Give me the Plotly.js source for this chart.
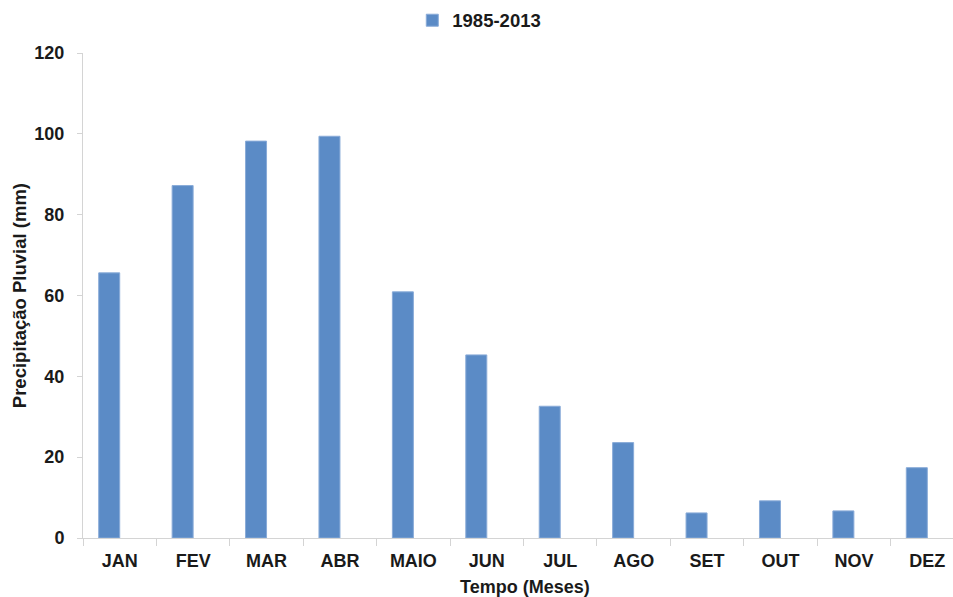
<!DOCTYPE html>
<html>
<head>
<meta charset="utf-8">
<script src="https://cdn.plot.ly/plotly-3.0.1.min.js"></script>
<style>
  html, body { margin: 0; padding: 0; background: #fff; }
  #chart { width: 953px; height: 597px; }
</style>
</head>
<body>
<div id="chart"></div>
<script>
// Monthly mean rainfall, 1985-2013
const months = ['JAN', 'FEV', 'MAR', 'ABR', 'MAIO', 'JUN', 'JUL', 'AGO', 'SET', 'OUT', 'NOV', 'DEZ'];
const rainfall = [65.6, 87.2, 98.2, 99.4, 60.9, 45.3, 32.6, 23.6, 6.2, 9.2, 6.7, 17.4];
const seriesName = '1985-2013';
const yTicks = [0, 20, 40, 60, 80, 100, 120];

const FONT = 'Liberation Sans, Arial, Helvetica, sans-serif';
const INK = '#1a1a1a';
const AXIS = '#d4d4d4';

const trace = {
  type: 'bar',
  x: months,
  y: rainfall,
  name: seriesName,
  width: 0.286,
  offset: -0.286,
  marker: { color: '#5b8bc6', line: { color: '#89abd8', width: 1 } },
  hoverinfo: 'x+y'
};

const layout = {
  width: 953,
  height: 597,
  margin: { l: 83, r: 0, t: 53, b: 59, pad: 0 },
  paper_bgcolor: '#ffffff',
  plot_bgcolor: '#ffffff',
  font: { family: FONT, color: INK, size: 18 },
  showlegend: true,
  legend: {
    orientation: 'h',
    x: 0.3785, xanchor: 'left',
    y: 1.0666, yanchor: 'middle',
    font: { family: FONT, size: 18.5, color: INK, weight: 'bold' },
    bgcolor: 'rgba(0,0,0,0)'
  },
  xaxis: {
    type: 'category',
    range: [-0.5, 11.35],
    showline: true, linecolor: AXIS, linewidth: 1,
    showgrid: false, zeroline: false,
    ticks: 'outside', tickson: 'boundaries', ticklen: 7, tickcolor: AXIS, tickwidth: 1,
    ticklabelstandoff: 6,
    tickfont: { family: FONT, size: 18, color: INK, weight: 'bold' },
    automargin: false,
    fixedrange: true
  },
  yaxis: {
    range: [0, 120],
    tickvals: yTicks,
    ticktext: yTicks.map(String),
    showline: true, linecolor: AXIS, linewidth: 1,
    showgrid: false, zeroline: false,
    ticks: 'outside', ticklen: 5, tickcolor: AXIS, tickwidth: 1,
    ticklabelstandoff: 9,
    tickfont: { family: FONT, size: 18, color: INK, weight: 'bold' },
    automargin: false,
    fixedrange: true
  },
  annotations: [
    {
      text: 'Tempo (Meses)',
      xref: 'paper', yref: 'paper',
      x: 0.508, y: -0.1004, xanchor: 'center', yanchor: 'middle',
      showarrow: false,
      font: { family: FONT, size: 18, color: INK, weight: 'bold' }
    },
    {
      text: 'Precipitação Pluvial (mm)',
      xref: 'paper', yref: 'paper',
      x: -0.0728, y: 0.5, xanchor: 'center', yanchor: 'middle',
      textangle: -90,
      showarrow: false,
      font: { family: FONT, size: 18.5, color: INK, weight: 'bold' }
    }
  ]
};

Plotly.newPlot('chart', [trace], layout, { displayModeBar: false, staticPlot: true });
</script>
</body>
</html>
